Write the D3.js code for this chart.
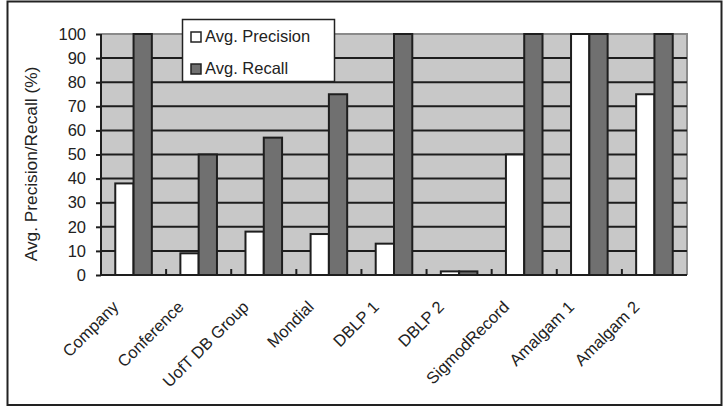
<!DOCTYPE html>
<html><head><meta charset="utf-8">
<script src="https://cdn.jsdelivr.net/npm/d3@7"></script>
<style>body{margin:0;background:#fff}svg{display:block;font-family:"Liberation Sans",Arial,sans-serif}</style>
</head><body>
<script>
const categories = ["Company","Conference","UofT DB Group","Mondial","DBLP 1","DBLP 2","SigmodRecord","Amalgam 1","Amalgam 2"];
const seriesNames = ["Avg. Precision","Avg. Recall"];
const precision = [38, 9, 18, 17, 13, 1.5, 50, 100, 75];
const recall = [100, 50, 57, 75, 100, 1.5, 100, 100, 100];
const yTicks = [0,10,20,30,40,50,60,70,80,90,100];
const seriesColors = ["#ffffff","#707070"];

const W = 724, H = 407;
const FS = 16.5;
const svg = d3.select("body").append("svg").attr("width", W).attr("height", H);
const plot = {l: 101, r: 687, t: 34, b: 275};

svg.append("rect").attr("x",7.5).attr("y",1.5).attr("width",714).attr("height",403.5)
  .attr("fill","#fff").attr("stroke","#222").attr("stroke-width",2);

const x0 = d3.scaleBand().domain(categories).range([plot.l, plot.r]).padding(0);
const x1 = d3.scaleBand().domain(seriesNames).range([0, x0.bandwidth()]).paddingInner(0).paddingOuter(0.78);
const y = d3.scaleLinear().domain([0,100]).range([plot.b, plot.t]);

svg.append("rect").attr("x",plot.l).attr("y",plot.t).attr("width",plot.r-plot.l).attr("height",plot.b-plot.t)
  .attr("fill","#c8c8c8");
svg.append("path").attr("d",`M${plot.l},${plot.t}H${plot.r}V${plot.b}`).attr("fill","none").attr("stroke","#8a8a8a").attr("stroke-width",2);

svg.append("g").selectAll("line").data(yTicks.filter(v=>v>0 && v<100)).join("line")
  .attr("x1",plot.l).attr("x2",plot.r).attr("y1",d=>y(d)).attr("y2",d=>y(d))
  .attr("stroke","#1e1e1e").attr("stroke-width",2);

const data = categories.map((c,i)=>({c, vals:[precision[i], recall[i]]}));
const g = svg.append("g");
data.forEach(d=>{
  d.vals.forEach((v,j)=>{
    g.append("rect").attr("x", x0(d.c)+x1(seriesNames[j])).attr("y", y(v))
      .attr("width", x1.bandwidth()).attr("height", y(0)-y(v))
      .attr("fill", seriesColors[j]).attr("stroke","#1e1e1e").attr("stroke-width",2);
  });
});

const ya = svg.append("g").attr("transform",`translate(${plot.l},0)`)
  .call(d3.axisLeft(y).tickValues(yTicks).tickSize(5).tickPadding(10));
ya.select(".domain").attr("stroke","#1e1e1e").attr("stroke-width",2).attr("d",`M0,${plot.t}V${plot.b}`);
ya.selectAll(".tick line").attr("stroke","#1e1e1e").attr("stroke-width",2);
ya.selectAll(".tick text").attr("font-size",FS).attr("fill","#222").attr("font-family","Liberation Sans, Arial, sans-serif");

svg.append("line").attr("x1",plot.l).attr("x2",plot.r).attr("y1",plot.b).attr("y2",plot.b).attr("stroke","#1e1e1e").attr("stroke-width",2);
svg.append("g").selectAll("line").data(categories.slice(1)).join("line")
  .attr("x1",d=>x0(d)).attr("x2",d=>x0(d)).attr("y1",plot.b).attr("y2",plot.b-6)
  .attr("stroke","#1e1e1e").attr("stroke-width",2);
svg.append("g").selectAll("text").data(categories).join("text")
  .attr("transform",d=>`translate(${x0(d)+x0.bandwidth()/2-14},${plot.b+33}) rotate(-45)`)
  .attr("text-anchor","end").attr("font-size",FS).attr("fill","#222").text(d=>d);

svg.append("text").attr("transform",`translate(37,164) rotate(-90)`).attr("text-anchor","middle")
  .attr("font-size",17.3).attr("fill","#222").text("Avg. Precision/Recall (%)");

const lg = svg.append("g");
lg.append("rect").attr("x",182.5).attr("y",19.5).attr("width",152).attr("height",62)
  .attr("fill","#fff").attr("stroke","#222").attr("stroke-width",1.5);
seriesNames.forEach((s,i)=>{
  lg.append("rect").attr("x",191).attr("y",32+i*32).attr("width",10).attr("height",10)
    .attr("fill",seriesColors[i]).attr("stroke","#222").attr("stroke-width",1.5);
  lg.append("text").attr("x",205).attr("y",42+i*32).attr("font-size",FS).attr("fill","#222").text(s);
});
</script>
</body></html>
